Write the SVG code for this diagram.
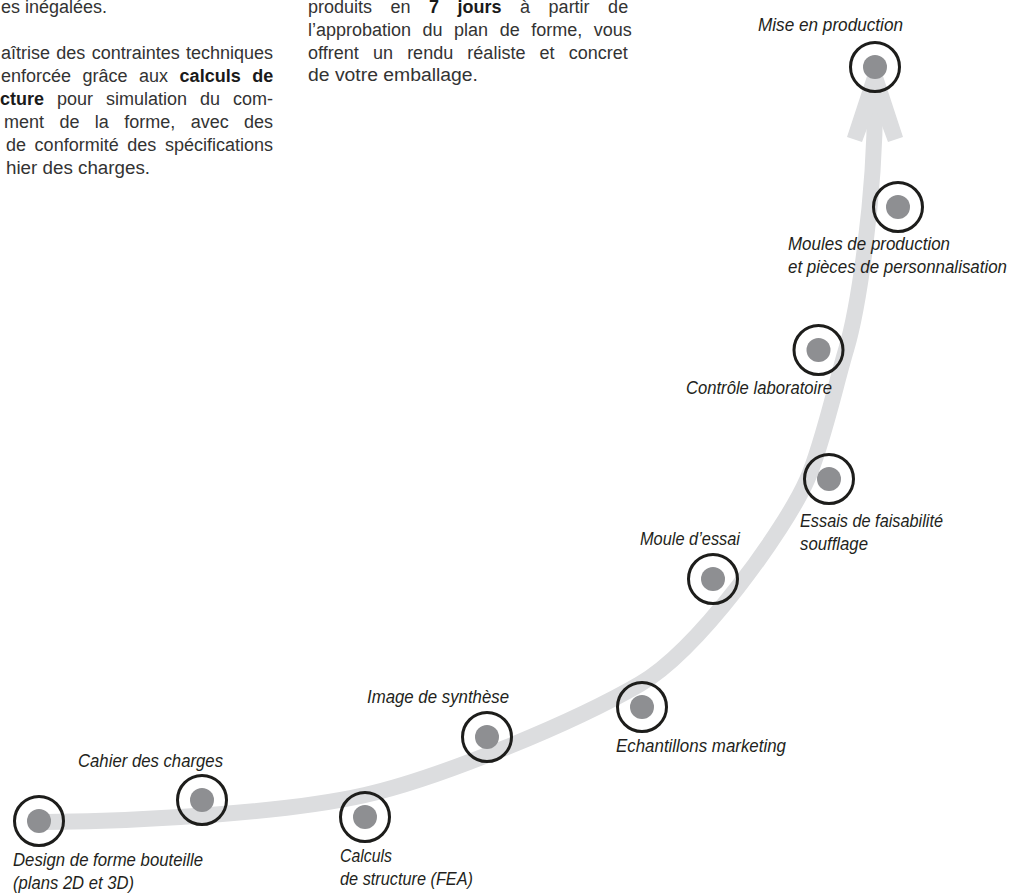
<svg xmlns="http://www.w3.org/2000/svg" width="1009" height="896" viewBox="0 0 1009 896">
<style>
.band{fill:none;stroke:#dcdddf;stroke-width:16;stroke-linecap:butt}
.head{fill:#dcdddf}
.ring{fill:none;stroke:#1d1d1b;stroke-width:3}
.dot{fill:#8e8f92}
.lbl{font-family:"Liberation Sans",Arial,sans-serif;font-style:italic;font-size:18px;fill:#231f20}
.body{font-family:"Liberation Sans",Arial,sans-serif;font-size:18px;fill:#333333}
.b{font-weight:bold;fill:#1a1a1a}
</style>
<rect width="1009" height="896" fill="#ffffff"/>
<g id="text-left" class="body">
<text x="1" y="13">es inégalées.</text>
<text x="1" y="58.5" word-spacing="1.3">aîtrise des contraintes techniques</text>
<text x="1" y="81.5" word-spacing="6.5">enforcée grâce aux <tspan class="b">calculs de</tspan></text>
<text x="0" y="104.5" word-spacing="8"><tspan class="b">cture</tspan> pour simulation du com-</text>
<text x="4" y="127.5" word-spacing="10.4">ment de la forme, avec des</text>
<text x="6" y="150.5" word-spacing="3.6">de conformité des spécifications</text>
<text x="6" y="173.5" textLength="144" lengthAdjust="spacingAndGlyphs">hier des charges.</text>
</g>
<g id="text-middle" class="body">
<text x="308" y="13" word-spacing="13.5">produits en <tspan class="b">7 jours</tspan> à partir de</text>
<text x="308" y="36" word-spacing="6.5">l’approbation du plan de forme, vous</text>
<text x="308" y="58.5" word-spacing="9.2">offrent un rendu réaliste et concret</text>
<text x="308" y="81" textLength="170" lengthAdjust="spacingAndGlyphs">de votre emballage.</text>
</g>
<g id="connectors">
<path class="band" d="M45,822 C150,821 290,812 365,795 C440,778 575,722 640,684 C698.5,650 785,530 807,480 C822,447 836,383 846,350 C858,310 875,200 875,100"/>
<polygon class="head" points="867,76 883,76 903,137 888,142 875,107 862,142 847,137"/>
</g>
<g id="node-design">
<circle class="ring" cx="39" cy="821" r="24.5"/>
<circle class="dot" cx="39" cy="821" r="12"/>
<text class="lbl" x="13" y="866" textLength="190" lengthAdjust="spacingAndGlyphs">Design de forme bouteille</text>
<text class="lbl" x="13" y="889" textLength="121" lengthAdjust="spacingAndGlyphs">(plans 2D et 3D)</text>
</g>
<g id="node-cahier">
<circle class="ring" cx="202" cy="800" r="24.5"/>
<circle class="dot" cx="202" cy="800" r="12"/>
<text class="lbl" x="78" y="767" textLength="145" lengthAdjust="spacingAndGlyphs">Cahier des charges</text>
</g>
<g id="node-calculs">
<circle class="ring" cx="365" cy="817" r="24.5"/>
<circle class="dot" cx="365" cy="817" r="12"/>
<text class="lbl" x="340" y="862" textLength="52" lengthAdjust="spacingAndGlyphs">Calculs</text>
<text class="lbl" x="340" y="885" textLength="133" lengthAdjust="spacingAndGlyphs">de structure (FEA)</text>
</g>
<g id="node-image">
<circle class="ring" cx="487" cy="737" r="24.5"/>
<circle class="dot" cx="487" cy="737" r="12"/>
<text class="lbl" x="367" y="703" textLength="142" lengthAdjust="spacingAndGlyphs">Image de synthèse</text>
</g>
<g id="node-echantillons">
<circle class="ring" cx="642" cy="707" r="24.5"/>
<circle class="dot" cx="642" cy="707" r="12"/>
<text class="lbl" x="616" y="752" textLength="170" lengthAdjust="spacingAndGlyphs">Echantillons marketing</text>
</g>
<g id="node-moule-essai">
<circle class="ring" cx="713" cy="579" r="24.5"/>
<circle class="dot" cx="713" cy="579" r="12"/>
<text class="lbl" x="640" y="545" textLength="100" lengthAdjust="spacingAndGlyphs">Moule d’essai</text>
</g>
<g id="node-essais">
<circle class="ring" cx="829" cy="479" r="24.5"/>
<circle class="dot" cx="829" cy="479" r="12"/>
<text class="lbl" x="800" y="527" textLength="143" lengthAdjust="spacingAndGlyphs">Essais de faisabilité</text>
<text class="lbl" x="800" y="550" textLength="68" lengthAdjust="spacingAndGlyphs">soufflage</text>
</g>
<g id="node-controle">
<circle class="ring" cx="818.5" cy="350" r="24.5"/>
<circle class="dot" cx="818.5" cy="350" r="12"/>
<text class="lbl" x="686" y="394" textLength="146" lengthAdjust="spacingAndGlyphs">Contrôle laboratoire</text>
</g>
<g id="node-moules-production">
<circle class="ring" cx="898" cy="207" r="24.5"/>
<circle class="dot" cx="898" cy="207" r="12"/>
<text class="lbl" x="788" y="250" textLength="162" lengthAdjust="spacingAndGlyphs">Moules de production</text>
<text class="lbl" x="788" y="273" textLength="219" lengthAdjust="spacingAndGlyphs">et pièces de personnalisation</text>
</g>
<g id="node-mise">
<circle class="ring" cx="875" cy="67" r="24.5"/>
<circle class="dot" cx="875" cy="67" r="12"/>
<text class="lbl" x="758" y="31" textLength="145" lengthAdjust="spacingAndGlyphs">Mise en production</text>
</g>
</svg>
